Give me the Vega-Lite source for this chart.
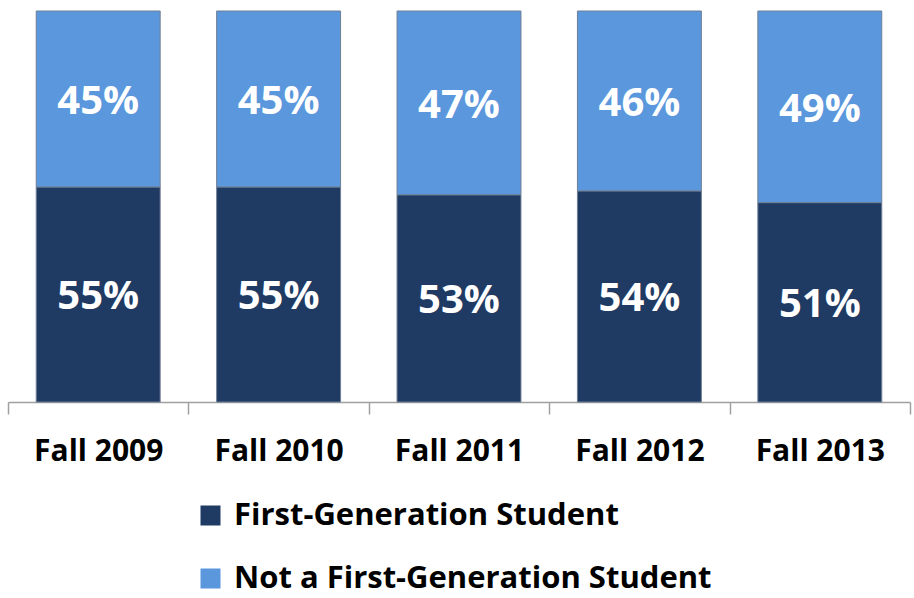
{
  "$schema": "https://vega.github.io/schema/vega-lite/v6.json",
  "width": 902,
  "height": 391,
  "autosize": {"type": "none"},
  "padding": {"left": 8, "top": 11, "right": 4, "bottom": 196},
  "background": "white",
  "data": {
    "values": [
      {"year": "Fall 2009", "group": "First-Generation Student", "pct": 55},
      {"year": "Fall 2009", "group": "Not a First-Generation Student", "pct": 45},
      {"year": "Fall 2010", "group": "First-Generation Student", "pct": 55},
      {"year": "Fall 2010", "group": "Not a First-Generation Student", "pct": 45},
      {"year": "Fall 2011", "group": "First-Generation Student", "pct": 53},
      {"year": "Fall 2011", "group": "Not a First-Generation Student", "pct": 47},
      {"year": "Fall 2012", "group": "First-Generation Student", "pct": 54},
      {"year": "Fall 2012", "group": "Not a First-Generation Student", "pct": 46},
      {"year": "Fall 2013", "group": "First-Generation Student", "pct": 51},
      {"year": "Fall 2013", "group": "Not a First-Generation Student", "pct": 49}
    ]
  },
  "transform": [
    {"stack": "pct", "groupby": ["year"], "sort": [{"field": "group", "order": "ascending"}], "as": ["y0", "y1"]},
    {"calculate": "(datum.y0 + datum.y1) / 2", "as": "mid"},
    {"calculate": "datum.pct + '%'", "as": "label"}
  ],
  "encoding": {
    "x": {
      "field": "year",
      "type": "nominal",
      "title": null,
      "scale": {"paddingInner": 0, "paddingOuter": 0},
      "axis": {
        "labelAngle": 0,
        "labelFont": "Open Sans",
        "labelFontSize": 30,
        "labelFontWeight": "bold",
        "labelColor": "black",
        "labelPadding": 22,
        "domainColor": "#a0a0a0",
        "domainWidth": 1.5,
        "tickColor": "#a0a0a0",
        "tickWidth": 1.5,
        "tickSize": 12,
        "tickBand": "extent"
      }
    }
  },
  "layer": [
    {
      "mark": {"type": "bar", "stroke": "#6f7f95", "strokeWidth": 1, "width": {"band": 0.687}},
      "encoding": {
        "y": {"field": "y0", "type": "quantitative", "scale": {"domain": [0, 100], "nice": false}, "axis": null},
        "y2": {"field": "y1"},
        "color": {
          "field": "group",
          "type": "nominal",
          "scale": {"domain": ["First-Generation Student", "Not a First-Generation Student"], "range": ["#1f3b64", "#5b97dc"]},
          "legend": {
            "title": null,
            "orient": "none",
            "legendX": 187,
            "legendY": 489,
            "direction": "vertical",
            "symbolType": "square",
            "symbolSize": 400,
            "symbolStrokeWidth": 0,
            "labelFont": "Open Sans",
            "labelFontSize": 31,
            "labelFontWeight": "bold",
            "labelColor": "black",
            "labelOffset": 8,
            "rowPadding": 31,
            "padding": 0,
            "labelLimit": 0
          }
        }
      }
    },
    {
      "mark": {"type": "text", "color": "white", "font": "Open Sans", "fontSize": 40, "fontWeight": "bold", "baseline": "middle", "align": "center", "dy": 3},
      "encoding": {
        "y": {"field": "mid", "type": "quantitative"},
        "text": {"field": "label", "type": "nominal"},
        "detail": {"field": "group"}
      }
    }
  ],
  "config": {"view": {"stroke": null}}
}
